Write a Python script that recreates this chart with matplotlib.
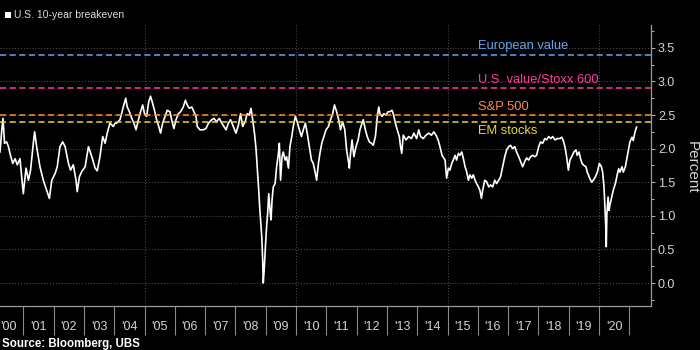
import matplotlib.pyplot as plt
from matplotlib.patches import Rectangle
from matplotlib.ticker import MultipleLocator

plt.rcParams['font.family'] = ['Liberation Sans', 'DejaVu Sans']

# U.S. 10-year breakeven inflation rate (%), decimal-year dates
years = [
    2000.23, 2000.29, 2000.33, 2000.38, 2000.45, 2000.51, 2000.56, 2000.65, 2000.73, 2000.80,
    2000.89, 2001.00, 2001.09, 2001.17, 2001.24, 2001.33, 2001.375, 2001.44, 2001.55, 2001.66,
    2001.77, 2001.86, 2001.94, 2002.05, 2002.12, 2002.21, 2002.30, 2002.38, 2002.49, 2002.56,
    2002.65, 2002.74, 2002.78, 2002.85, 2002.93, 2003.04, 2003.15, 2003.26, 2003.37, 2003.44,
    2003.53, 2003.62, 2003.70, 2003.77, 2003.86, 2003.97, 2004.03,
    2004.08, 2004.19, 2004.30, 2004.38, 2004.43, 2004.50, 2004.58, 2004.65, 2004.72, 2004.80,
    2004.87, 2004.94, 2005.00, 2005.07, 2005.14, 2005.20, 2005.27, 2005.34, 2005.40, 2005.47,
    2005.53, 2005.60, 2005.68, 2005.75, 2005.84, 2005.91, 2005.97, 2006.04, 2006.12, 2006.19,
    2006.28, 2006.35, 2006.41, 2006.48, 2006.56, 2006.63, 2006.70, 2006.74, 2006.83, 2006.94,
    2007.03, 2007.11, 2007.22, 2007.29, 2007.38, 2007.47, 2007.55, 2007.66,
    2007.69, 2007.77, 2007.84, 2007.93, 2008.02, 2008.10, 2008.17, 2008.24, 2008.32, 2008.39,
    2008.46, 2008.515, 2008.57, 2008.63, 2008.68, 2008.72, 2008.77, 2008.80, 2008.83, 2008.87,
    2008.90, 2008.92, 2008.955, 2008.99, 2009.03, 2009.065, 2009.10, 2009.14, 2009.175, 2009.21,
    2009.25, 2009.31, 2009.36, 2009.42, 2009.45, 2009.49, 2009.54, 2009.58, 2009.64, 2009.69,
    2009.75, 2009.80, 2009.86, 2009.91, 2009.98, 2010.04, 2010.11, 2010.18, 2010.24, 2010.31,
    2010.37, 2010.44, 2010.51, 2010.57, 2010.64, 2010.68, 2010.74, 2010.79, 2010.85, 2010.92,
    2010.99, 2011.07, 2011.14, 2011.21, 2011.27,
    2011.34, 2011.41, 2011.47, 2011.54, 2011.61, 2011.67, 2011.74, 2011.76, 2011.80, 2011.85,
    2011.91, 2011.98, 2012.05, 2012.11, 2012.18, 2012.22, 2012.29, 2012.35, 2012.42, 2012.49,
    2012.55, 2012.62, 2012.685, 2012.73, 2012.77, 2012.84, 2012.90, 2012.97, 2013.04, 2013.10,
    2013.17, 2013.21, 2013.28, 2013.34, 2013.41, 2013.45, 2013.49, 2013.54, 2013.63, 2013.72,
    2013.81, 2013.89, 2013.98, 2014.05, 2014.11, 2014.20, 2014.29, 2014.38, 2014.47, 2014.55,
    2014.62, 2014.69, 2014.75, 2014.82, 2014.92,
    2014.97, 2015.03, 2015.08, 2015.14, 2015.19, 2015.25, 2015.30, 2015.36, 2015.41, 2015.47,
    2015.52, 2015.58, 2015.63, 2015.69, 2015.74, 2015.80, 2015.85, 2015.91, 2015.96, 2016.02,
    2016.07, 2016.12, 2016.16, 2016.23, 2016.29, 2016.36, 2016.42, 2016.49, 2016.56, 2016.62,
    2016.69, 2016.75, 2016.82, 2016.89, 2016.95, 2017.02, 2017.08, 2017.15, 2017.22, 2017.28,
    2017.35, 2017.41, 2017.48, 2017.55, 2017.61, 2017.68, 2017.74, 2017.81, 2017.88, 2017.94,
    2018.01, 2018.07, 2018.14, 2018.21, 2018.27, 2018.34, 2018.41, 2018.47, 2018.55, 2018.63,
    2018.71, 2018.77, 2018.82, 2018.88, 2018.93, 2018.99, 2019.04, 2019.10, 2019.17, 2019.24,
    2019.28, 2019.34, 2019.39, 2019.44, 2019.50, 2019.57, 2019.61, 2019.66, 2019.70, 2019.76,
    2019.81, 2019.88, 2019.945, 2020.01, 2020.08, 2020.12, 2020.165, 2020.20, 2020.22, 2020.24,
    2020.26, 2020.30, 2020.33, 2020.36, 2020.42, 2020.47, 2020.54, 2020.61, 2020.65, 2020.69,
    2020.76, 2020.80, 2020.87, 2020.91, 2020.97, 2021.02, 2021.09, 2021.13, 2021.19, 2021.24,
]
breakeven = [
    1.95, 2.28, 2.45, 2.08, 2.10, 2.03, 1.93, 1.78, 1.85, 1.76,
    1.85, 1.33, 1.71, 1.53, 1.68, 2.08, 2.25, 2.03, 1.73, 1.53,
    1.38, 1.26, 1.53, 1.63, 1.73, 2.03, 2.10, 2.03, 1.78, 1.68,
    1.76, 1.53, 1.36, 1.58, 1.66, 1.73, 2.03, 1.88, 1.71, 1.67,
    1.88, 2.18, 2.08, 2.23, 2.38, 2.33, 2.38,
    2.38, 2.43, 2.62, 2.75, 2.62, 2.55, 2.45, 2.38, 2.28, 2.43,
    2.55, 2.65, 2.52, 2.48, 2.70, 2.78, 2.67, 2.55, 2.43, 2.33,
    2.23, 2.38, 2.48, 2.57, 2.55, 2.40, 2.30, 2.43, 2.52, 2.55,
    2.62, 2.72, 2.65, 2.60, 2.62, 2.55, 2.48, 2.33, 2.28, 2.28,
    2.30, 2.38, 2.43, 2.45, 2.40, 2.45, 2.38, 2.30,
    2.28, 2.38, 2.43, 2.33, 2.23, 2.35, 2.52, 2.33, 2.40, 2.52,
    2.50, 2.60, 2.43, 2.23, 2.00, 1.73, 1.38, 1.14, 0.94, 0.69,
    0.34, 0.00, 0.24, 0.54, 0.84, 1.04, 1.33, 1.09, 0.94, 1.24,
    1.43, 1.48, 1.73, 1.93, 2.08, 1.53, 1.88, 1.95, 1.83, 1.88,
    1.71, 2.03, 2.18, 2.33, 2.48, 2.40, 2.28, 2.18, 2.28, 2.38,
    2.23, 2.03, 1.83, 1.78, 1.63, 1.53, 1.78, 1.93, 2.08, 2.18,
    2.28, 2.33, 2.43, 2.52, 2.65,
    2.55, 2.43, 2.28, 2.40, 2.28, 1.98, 1.78, 1.71, 1.93, 2.13,
    1.88, 2.03, 2.13, 2.28, 2.38, 2.43, 2.28, 2.18, 2.10, 2.08,
    2.05, 2.18, 2.48, 2.62, 2.52, 2.48, 2.52, 2.50, 2.55, 2.55,
    2.57, 2.52, 2.38, 2.28, 2.18, 2.03, 1.93, 2.20, 2.13, 2.18,
    2.15, 2.23, 2.15, 2.28, 2.18, 2.15, 2.20, 2.23, 2.20, 2.25,
    2.20, 2.13, 2.03, 1.90, 1.83,
    1.56, 1.71, 1.68, 1.78, 1.83, 1.90, 1.83, 1.93, 1.90, 1.95,
    1.86, 1.73, 1.66, 1.53, 1.61, 1.56, 1.61, 1.53, 1.48, 1.43,
    1.38, 1.26, 1.38, 1.53, 1.51, 1.43, 1.46, 1.43, 1.53, 1.48,
    1.53, 1.58, 1.73, 1.88, 1.98, 2.03, 2.05, 2.00, 2.03, 1.95,
    1.88, 1.81, 1.73, 1.81, 1.86, 1.83, 1.88, 1.90, 1.88, 1.90,
    2.03, 2.10, 2.08, 2.15, 2.13, 2.18, 2.15, 2.18, 2.13, 2.15,
    2.15, 2.17, 2.12, 2.02, 1.88, 1.68, 1.83, 1.88, 1.95, 1.98,
    1.90, 1.95, 1.85, 1.78, 1.75, 1.73, 1.65, 1.60, 1.55, 1.50,
    1.53, 1.58, 1.65, 1.78, 1.73, 1.65, 1.43, 1.08, 0.88, 0.54,
    1.03, 1.28, 1.08, 1.16, 1.28, 1.38, 1.48, 1.63, 1.70, 1.65,
    1.73, 1.65, 1.73, 1.83, 1.98, 2.10, 2.17, 2.12, 2.25, 2.32,
]

# breakeven levels implied by each asset class
ref_names = ['European value', 'U.S. value/Stoxx 600', 'S&P 500', 'EM stocks']
ref_levels = [3.4, 2.9, 2.5, 2.4]
ref_colors = ['#62a6f2', '#ff3c9f', '#ff8a4c', '#e6da2c']
ref_text_y = [3.53, 3.02, 2.62, 2.26]

year_labels = ["'%02d" % (y % 100) for y in range(2000, 2021)]

fig = plt.figure(figsize=(7, 3.5), dpi=100, facecolor='black')
ax = fig.add_axes([0.0, 0.1257, 0.930, 0.8029])
ax.set_facecolor('black')

ax.set_xlim(2000.231, 2021.716)
ax.set_ylim(-0.342, 3.84)

# dotted grid
ax.grid(axis='y', which='major', linestyle=(0, (1, 2)), color='#555555', lw=0.7)
for gx in (2005, 2010, 2015, 2020):
    ax.axvline(gx, linestyle=(0, (1, 2)), color='#555555', lw=0.7, zorder=0.5)

ax.plot(years, breakeven, color='white', lw=1.2, zorder=3)

for name, level, col, ty in zip(ref_names, ref_levels, ref_colors, ref_text_y):
    ax.axhline(level, color=col, lw=1.1, dashes=(4, 2.3), zorder=4)
    ax.text(2016.0, ty, name, color=col, fontsize=9.3, ha='left', va='center')

# y axis on the right
ax.yaxis.tick_right()
ax.set_yticks([0, 0.5, 1.0, 1.5, 2.0, 2.5, 3.0, 3.5])
ax.set_yticklabels(['%.1f' % v for v in [0, 0.5, 1.0, 1.5, 2.0, 2.5, 3.0, 3.5]])
ax.yaxis.set_minor_locator(MultipleLocator(0.25))
ax.tick_params(axis='y', which='major', length=3, width=0.8, color='#aaaaaa',
               labelcolor='#d4d4d4', labelsize=9, pad=2)
ax.tick_params(axis='y', which='minor', length=2, width=0.8, color='#aaaaaa')

# year labels centred between year boundary ticks
ax.set_xticks([y + 0.5 for y in range(2000, 2021)])
ax.set_xticklabels(year_labels)
ax.set_xticks(list(range(2001, 2022)), minor=True)
ax.tick_params(axis='x', which='major', length=0, labelcolor='#d4d4d4', labelsize=9, pad=11)
ax.tick_params(axis='x', which='minor', length=21, width=0.8, color='#8a8a8a')

for side in ('left', 'top'):
    ax.spines[side].set_visible(False)
for side in ('bottom', 'right'):
    ax.spines[side].set_color('#9a9a9a')
    ax.spines[side].set_linewidth(0.9)

fig.text(692 / 700, 1 - 167 / 350, 'Percent', rotation=270, ha='center', va='center',
         fontsize=11, color='#d4d4d4')

# legend key
fig.patches.append(Rectangle((5 / 700, 1 - 18 / 350), 6 / 700, 6 / 350,
                             transform=fig.transFigure, facecolor='white', edgecolor='none'))
fig.text(14 / 700, 1 - 15 / 350, 'U.S. 10-year breakeven', ha='left', va='center',
         fontsize=7.5, color='#dcdcdc')

fig.text(2 / 700, 1 - 344 / 350, 'Source: Bloomberg, UBS', ha='left', va='center',
         fontsize=8.3, fontweight='bold', color='white')

fig.savefig('out.png', dpi=100, facecolor='black')
